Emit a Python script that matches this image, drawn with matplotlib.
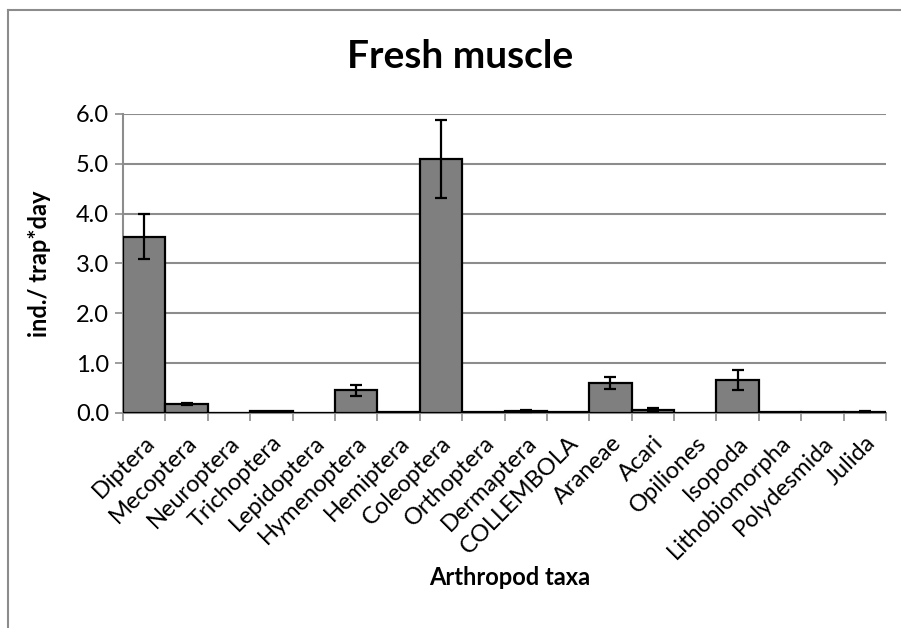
import matplotlib
matplotlib.use("Agg")
import numpy as np
import matplotlib.pyplot as plt
from matplotlib.lines import Line2D

taxa = ["Diptera", "Mecoptera", "Neuroptera", "Trichoptera", "Lepidoptera",
        "Hymenoptera", "Hemiptera", "Coleoptera", "Orthoptera", "Dermaptera",
        "COLLEMBOLA", "Araneae", "Acari", "Opiliones", "Isopoda",
        "Lithobiomorpha", "Polydesmida", "Julida"]
means = [3.54, 0.19, 0.0, 0.03, 0.0,
         0.46, 0.02, 5.09, 0.01, 0.03,
         0.01, 0.61, 0.06, 0.0, 0.66,
         0.01, 0.01, 0.02]
errors = [0.45, 0.02, 0.0, 0.0, 0.0,
          0.11, 0.0, 0.78, 0.0, 0.02,
          0.0, 0.12, 0.03, 0.0, 0.20,
          0.0, 0.0, 0.01]
yticks = [0.0, 1.0, 2.0, 3.0, 4.0, 5.0, 6.0]

plt.rcParams['font.family'] = ['Lato', 'DejaVu Sans']

fig = plt.figure(figsize=(9.01, 6.28), dpi=100)
ax = fig.add_axes([0.1365, 0.3424, 0.8469, 0.4761])

x = np.arange(len(taxa))
ax.bar(x, means, width=1.0, color='#7f7f7f', edgecolor='black', linewidth=1.6, zorder=3)
# only taxa with a non-zero error get a whisker
has_err = [i for i in range(len(taxa)) if errors[i] > 0]
ax.errorbar(x[has_err], [means[i] for i in has_err], yerr=[errors[i] for i in has_err],
            fmt='none', ecolor='black', elinewidth=1.6, capsize=4.5, capthick=1.6, zorder=4)

ax.set_xlim(-0.5, len(taxa) - 0.5)
ax.set_ylim(0, 6)
ax.set_yticks(yticks)
ax.set_yticklabels([f"{v:.1f}" for v in yticks], fontsize=17)
ax.yaxis.grid(True, color='#8c8c8c', linewidth=1.5, zorder=0)
ax.tick_params(axis='y', length=6, width=1.2, color='#8c8c8c', pad=4)

ax.set_xticks(np.arange(len(taxa) + 1) - 0.5, minor=False)
ax.set_xticklabels([])
ax.set_xticks(x, minor=True)
ax.set_xticklabels(taxa, minor=True, rotation=45, ha='right', rotation_mode='anchor',
                   fontsize=17)
ax.tick_params(axis='x', which='major', length=6, width=1.2, color='#8c8c8c', direction='out')
ax.tick_params(axis='x', which='minor', length=0, pad=14)

for s in ['top', 'right']:
    ax.spines[s].set_visible(False)
ax.spines['left'].set_color('#8c8c8c')
ax.spines['left'].set_linewidth(1.5)
ax.spines['bottom'].set_color('#8c8c8c')
ax.spines['bottom'].set_linewidth(1.5)

ax.set_ylabel("ind./ trap*day", fontsize=17, fontweight='bold')
ax.yaxis.set_label_coords(-0.094, 0.5)
fig.text(0.566, 0.081, "Arthropod taxa", fontsize=17, fontweight='bold', ha='center', va='center')
fig.text(0.511, 0.892, "Fresh muscle", fontsize=28, fontweight='bold', ha='center', va='baseline')

# light frame around the chart area
fig.add_artist(Line2D([0.009, 1.0], [0.984, 0.984], color='#8c8c8c', linewidth=1.5))
fig.add_artist(Line2D([0.009, 0.009], [0.0, 0.984], color='#8c8c8c', linewidth=1.5))

fig.savefig("out.png", dpi=100)
